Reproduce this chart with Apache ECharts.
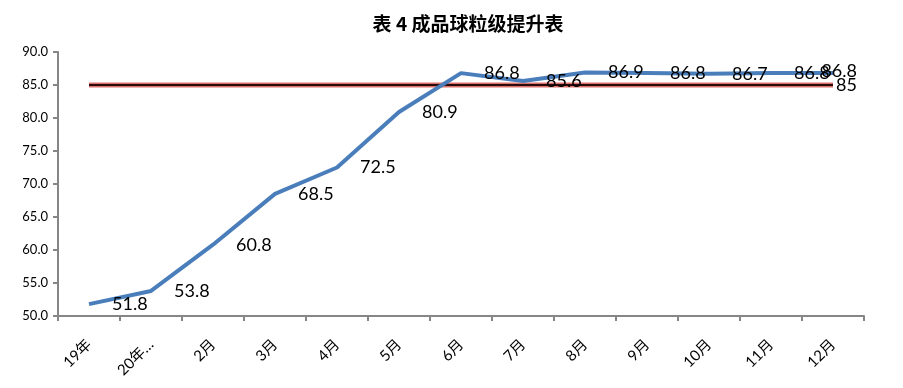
<!DOCTYPE html>
<html><head><meta charset="utf-8">
<script src="https://cdn.jsdelivr.net/npm/echarts@6/dist/echarts.min.js"></script>
<style>html,body{margin:0;padding:0;background:#fff}#c{width:903px;height:388px}</style>
</head><body><div id="c"></div>
<script>
const categories = ['19年','20年…','2月','3月','4月','5月','6月','7月','8月','9月','10月','11月','12月'];
const gradeValues = [51.8,53.8,60.8,68.5,72.5,80.9,86.8,85.6,86.9,86.8,86.7,86.8,86.8];
const targetValues = [85,85,85,85,85,85,85,85,85,85,85,85,85];
const yMin = 50, yMax = 90, yStep = 5;

const FONT = "Lato, 'Noto Sans CJK SC', sans-serif";
function withLastLabel(arr, dy){
  return arr.map((v,i)=> i===arr.length-1
    ? {value:v, label:{position:[25, 1 + dy], align:'right', verticalAlign:'middle'}}
    : v);
}

const chart = echarts.init(document.getElementById('c'), null, {renderer:'canvas'});
chart.setOption({
  animation:false,
  backgroundColor:'#fff',
  title:{text:'表 4 成品球粒级提升表', left:463, textAlign:'center', top:9,
    textStyle:{fontFamily:"'Noto Sans CJK SC', sans-serif", fontWeight:'bold', fontSize:19, color:'#000'}},
  grid:{left:58, right:39, top:52, bottom:72},
  xAxis:{type:'category', data:categories, boundaryGap:true,
    axisLine:{lineStyle:{color:'#868686', width:2}},
    axisTick:{show:true, length:5, alignWithLabel:false, lineStyle:{color:'#868686', width:2}},
    axisLabel:{rotate:45, fontSize:15, color:'#000', fontFamily:FONT, margin:26, interval:0}},
  yAxis:{type:'value', min:yMin, max:yMax, interval:yStep,
    axisLine:{show:true, lineStyle:{color:'#868686', width:2}},
    axisTick:{show:true, length:5, lineStyle:{color:'#868686', width:2}},
    splitLine:{show:false},
    axisLabel:{fontSize:13, color:'#000', fontFamily:FONT, margin:10, formatter:v=>v.toFixed(1)}},
  series:[
    {name:'目标glow', type:'line', data:targetValues, symbol:'none', silent:true, z:2,
      lineStyle:{color:'#d9706c', width:5}},
    {name:'目标', type:'line', data:withLastLabel(targetValues, 0),
      symbol:'circle', symbolSize:2, showSymbol:true, itemStyle:{color:'rgba(0,0,0,0)', borderWidth:0}, z:3,
      lineStyle:{color:'#2a0a0a', width:2},
      label:{show:true, position:'right', distance:0, fontSize:18, color:'#000', fontFamily:FONT,
        formatter:p=> p.dataIndex===targetValues.length-1 ? String(p.value) : ''}},
    {name:'粒级', type:'line', data:withLastLabel(gradeValues, -2),
      symbol:'circle', symbolSize:2, showSymbol:true, itemStyle:{color:'rgba(0,0,0,0)', borderWidth:0}, z:4,
      lineStyle:{color:'#4a7ebb', width:4},
      label:{show:true, position:'right', distance:22, fontSize:18, color:'#000', fontFamily:FONT,
        formatter:p=>p.value.toFixed(1)},
      labelLayout:{hideOverlap:false}}
  ]
});
</script></body></html>
